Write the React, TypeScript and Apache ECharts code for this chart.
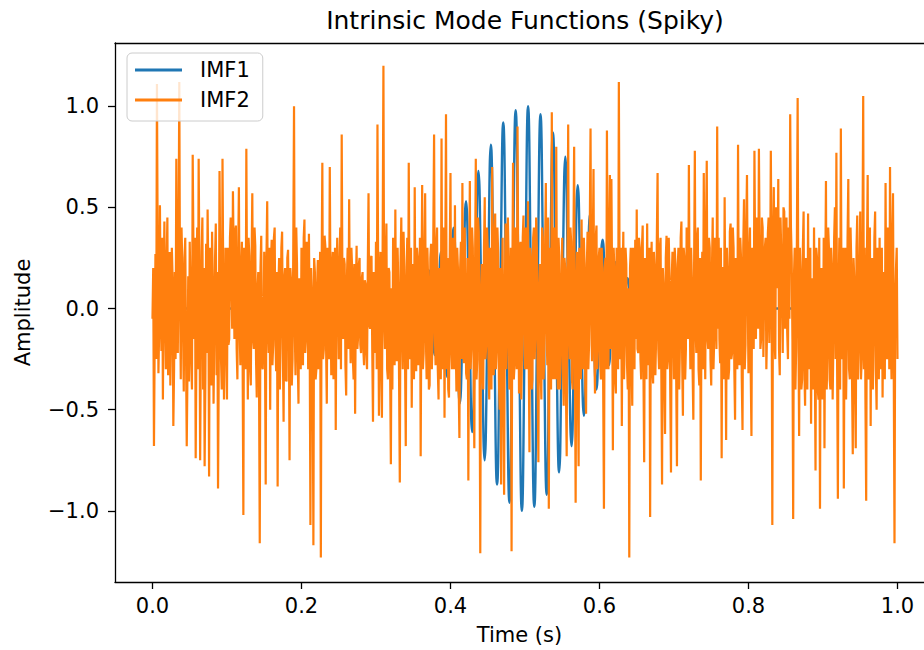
import React, { useEffect, useRef } from "react";
import * as echarts from "echarts";

const FONT = "DejaVu Sans";

const xTickValues = [0, 0.2, 0.4, 0.6, 0.8, 1.0];
const yTickValues = [-1.0, -0.5, 0.0, 0.5, 1.0];

// IMF1: zero crossings and extrema of the wave packet
const imf1Time = [
  0, 0.3,
  0.30417, 0.30833, 0.3125, 0.31667, 0.32083, 0.325, 0.32917, 0.33333,
  0.3375, 0.34167, 0.34583, 0.35, 0.35417, 0.35833, 0.3625, 0.36667,
  0.37083, 0.375, 0.37917, 0.38333, 0.3875, 0.39167, 0.39583, 0.4,
  0.40417, 0.40833, 0.4125, 0.41667, 0.42083, 0.425, 0.42917, 0.43333,
  0.4375, 0.44167, 0.44583, 0.45, 0.45417, 0.45833, 0.4625, 0.46667,
  0.47083, 0.475, 0.47917, 0.48333, 0.4875, 0.49167, 0.49583, 0.5,
  0.50417, 0.50833, 0.5125, 0.51667, 0.52083, 0.525, 0.52917, 0.53333,
  0.5375, 0.54167, 0.54583, 0.55, 0.55417, 0.55833, 0.5625, 0.56667,
  0.57083, 0.575, 0.57917, 0.58333, 0.5875, 0.59167, 0.59583, 0.6,
  0.60417, 0.60833, 0.6125, 0.61667, 0.62083, 0.625, 0.62917, 0.63333,
  0.6375, 0.64167, 0.64583, 0.65, 0.65417, 0.65833, 0.6625, 0.66667,
  0.67083, 0.675, 0.67917, 0.68333, 0.6875, 0.69167, 0.69583, 0.7,
  1.0,
];
const imf1Value = [
  0, 0,
  0.02, 0, -0.03, 0, 0.04, 0, -0.05, 0,
  0.07, 0, -0.09, 0, 0.12, 0, -0.15, 0,
  0.19, 0, -0.23, 0, 0.28, 0, -0.34, 0,
  0.4, 0, -0.47, 0, 0.53, 0, -0.61, 0,
  0.68, 0, -0.75, 0, 0.81, 0, -0.87, 0,
  0.92, 0, -0.96, 0, 0.98, 0, -1.0, 0,
  1.0, 0, -0.98, 0, 0.96, 0, -0.92, 0,
  0.87, 0, -0.81, 0, 0.75, 0, -0.68, 0,
  0.61, 0, -0.53, 0, 0.47, 0, -0.4, 0,
  0.34, 0, -0.28, 0, 0.23, 0, -0.19, 0,
  0.15, 0, -0.12, 0, 0.09, 0, -0.07, 0,
  0.05, 0, -0.04, 0, 0.03, 0, -0.02, 0,
  0,
];

// IMF2: spiky component, values on the even milliseconds (0, 0.002, ... 1.0 s)
const imf2Even = [
  -0.05, -0.68, 0.27, 1.11, -0.32, 0.51, -0.21, -0.45, 0.43, -0.3, 0.45, -0.12, -0.38, 0.3, -0.58, 0.18, 0.74, -0.22, 1.12, -0.35, 0.22, -0.41, 0.35, -0.68, 0.16,
  0.33, -0.26, 0.76, -0.15, -0.74, 0.4, 0.74, -0.75, 0.28, -0.4, -0.78, 0.32, 0.49, -0.83, -0.2, 0.38, -0.47, 0.25, -0.33, -0.89, 0.68, -0.25, 0.74, -0.45, 0.3,
  -0.45, -0.18, 0.35, 0.12, 0.58, -0.15, 0.41, -0.35, 0.6, -0.28, 0.33, -1.02, 0.15, 0.79, -0.45, 0.26, -0.38, 0.57, -0.2, 0.31, -0.44, 0.18, -1.16, 0.36, -0.3,
  0.28, -0.87, 0.53, -0.22, -0.5, 0.34, -0.18, 0.4, -0.31, -0.88, 0.25, -0.12, 0.38, -0.56, 0.2, -0.36, 0.29, -0.75, 0.14, -0.25, 1.0, -0.33, 0.22, -0.47, 0.12,
  0.3, -0.28, 0.44, -0.15, 0.26, 0.37, -1.07, 0.1, -1.17, 0.18, -0.3, 0.24, -0.12, -1.23, 0.72, -0.2, 0.31, -0.47, 0.15, 0.7, -0.33, 0.28, -0.18, -0.6, 0.35,
  -0.25, 0.4, 0.86, -0.15, 0.22, -0.43, 0.3, 0.54, -0.27, 0.2, -0.35, -0.52, 0.31, -0.14, 0.25, -0.22, 0.18, -0.28, 0.12, -0.3, 0.57, -0.1, 0.26, -0.56, 0.15,
  0.33, 0.91, -0.53, 0.28, -0.54, 1.2, -0.2, 0.42, -0.35, 0.18, -0.77, -0.4, 0.3, 0.49, -0.26, 0.12, -0.86, 0.45, -0.3, 0.21, -0.68, 0.35, 0.72, -0.25, -0.49,
  0.22, 0.6, -0.31, 0.25, -0.18, -0.73, 0.61, -0.22, 0.57, -0.35, 0.14, -0.38, 0.32, -0.15, 0.86, -0.28, 0.4, -0.45, 0.18, 0.84, -0.3, -0.54, 0.96, 0.25, -0.44,
  0.67, -0.3, 0.25, 0.51, -0.41, 0.2, -0.64, 0.33, 0.62, -0.27, 0.15, -0.35, -0.85, 0.63, -0.2, 0.3, -0.69, 0.74, -0.25, 0.38, -1.21, 0.22, -0.4, 0.55, -0.18,
  0.3, -0.45, 0.12, 0.7, -0.33, 0.47, -0.2, 0.28, -0.5, -0.87, 0.35, -0.92, 0.42, -0.15, 0.25, -0.38, -1.2, 0.72, -0.28, 0.2, 0.9, -0.42, 0.33, -0.22, 0.46,
  -0.3, 0.18, 0.53, -0.71, 0.25, -0.35, 0.4, -0.12, 0.3, -0.76, 0.22, -0.45, 0.35, -0.2, 0.62, -0.28, -0.99, 0.3, 0.97, -0.35, 0.15, 0.8, -0.4, 0.26, -0.22,
  0.35, -0.48, 0.2, -0.73, 0.91, -0.25, 0.33, -0.4, 0.8, -0.96, 0.28, -0.78, 0.15, 0.44, -0.3, 0.22, -0.52, 0.38, -0.18, 0.89, -0.26, 0.69, -0.42, 0.41, -0.2,
  0.3, -0.35, 0.18, -0.99, 0.25, 0.88, -0.3, 0.66, 0.64, -0.7, 0.2, -0.42, 0.28, 1.12, -0.25, -0.58, 0.38, -0.15, 0.22, -0.4, -1.23, 0.3, -0.48, 0.15, 0.34,
  0.49, -0.22, 0.3, -0.35, 0.41, -0.76, 0.18, 0.42, -0.28, -1.03, 0.33, -0.37, 0.2, -0.15, 0.67, -0.3, 0.35, -0.87, 0.12, -0.62, 0.36, -0.25, 0.16, -0.81, 0.28,
  -0.35, 0.22, -0.78, 0.3, -0.18, 0.43, -0.53, 0.25, -0.2, 0.35, 0.71, -0.3, 0.15, -0.55, 0.78, -0.22, 0.4, -0.38, -0.85, 0.28, 0.67, -0.35, 0.73, -0.2, 0.3,
  -0.38, 0.45, -0.15, 0.32, 0.9, 0.35, -0.27, -0.74, 0.2, 0.55, -0.65, 0.18, -0.3, 0.42, -0.22, 0.3, -0.55, 0.16, 0.81, -0.28, 0.25, -0.6, 0.54, -0.18, 0.66,
  -0.32, 0.4, -0.63, 0.22, 0.78, -0.15, 0.35, 0.79, -0.2, 0.45, -0.24, 0.3, -0.3, 0.37, -0.17, 0.78, -1.07, 0.6, -0.25, 0.42, 0.64, -0.33, 0.28, -0.22, 0.48,
  0.2, -0.12, 0.4, 0.96, 0.25, -1.04, 0.3, -0.2, 1.04, -0.63, 0.18, -0.35, 0.48, -0.48, 0.22, 0.47, -0.3, -0.57, 0.15, 0.4, -0.8, 0.25, -0.45, -0.99, 0.2,
  -0.3, -0.69, 0.63, -0.22, 0.3, -0.4, 0.2, -0.15, 0.5, 0.77, -0.94, 0.35, 0.89, -0.25, -0.89, 0.3, -0.18, 0.64, -0.35, 0.22, -0.72, 0.15, -0.69, 0.46, -0.2,
  0.48, -0.25, 1.05, 0.3, -0.95, 0.66, -0.2, -0.58, 0.25, -0.15, 0.48, -0.5, 0.2, 0.35, -0.3, -0.44, 0.18, 0.62, -0.25, 0.3, 0.7, -0.35, 0.57, -1.16, 0.2,
  -0.25,
];

// IMF2: values on the odd milliseconds (0.001, 0.003, ... 0.999 s)
const imf2Odd = [
  0.2, -0.15, -0.25, 0.3, -0.1, 0.05, 0.35, 0.12, -0.05, 0.22, -0.33, 0.28, -0.1, 0.15, -0.3, -0.25, 0.1, 0.3, 0.05, 0.4, -0.1, 0.25, -0.2, -0.3, -0.36,
  0.1, -0.4, 0.28, 0.35, -0.2, -0.3, 0.2, -0.15, 0.45, 0.2, -0.35, -0.22, 0.15, 0.3, -0.38, 0.1, -0.12, 0.42, 0.18, -0.28, 0.2, -0.4, 0.15, -0.2, 0.05,
  0.3, -0.15, 0.45, -0.1, 0.25, 0.38, -0.2, 0.25, -0.1, 0.2, -0.25, 0.3, -0.3, 0.05, 0.35, -0.3, 0.22, -0.15, 0.4, -0.25, 0.1, -0.33, 0.2, -0.28, -0.1,
  -0.2, 0.25, -0.1, 0.3, 0.22, -0.28, 0.35, -0.15, 0.18, 0.1, -0.4, 0.3, -0.2, 0.15, -0.35, 0.25, -0.05, 0.2, -0.38, 0.3, -0.1, 0.4, -0.25, 0.15, -0.3,
  -0.15, 0.35, -0.22, 0.33, -0.3, -0.1, 0.2, -0.3, 0.25, -0.35, 0.12, -0.3, 0.28, 0.15, -0.25, 0.36, -0.18, 0.3, -0.25, 0.05, 0.2, -0.35, 0.3, 0.1, 0.05,
  0.2, -0.3, 0.1, 0.25, -0.28, 0.15, -0.2, -0.05, 0.3, -0.25, 0.22, 0.1, -0.2, 0.22, -0.18, 0.15, -0.2, 0.14, -0.22, 0.2, -0.08, 0.25, -0.2, 0.18, -0.22,
  -0.3, 0.15, 0.1, -0.3, 0.35, -0.05, 0.25, -0.3, 0.2, -0.3, 0.1, 0.35, -0.28, -0.1, 0.3, -0.35, 0.22, -0.1, 0.38, -0.25, 0.15, -0.3, 0.05, 0.3, 0.1,
  -0.35, -0.1, 0.3, -0.28, 0.35, 0.05, -0.3, 0.25, -0.15, 0.3, -0.4, 0.25, -0.3, 0.38, -0.12, 0.3, -0.3, 0.2, -0.35, -0.15, 0.4, 0.2, -0.3, -0.4, 0.25,
  -0.2, 0.35, -0.3, -0.15, 0.3, -0.38, 0.2, -0.25, -0.1, 0.4, -0.32, 0.25, 0.1, -0.3, 0.4, -0.25, 0.2, -0.35, 0.45, -0.2, 0.05, -0.3, 0.3, -0.25, 0.4,
  -0.25, 0.3, -0.4, 0.05, 0.35, -0.3, 0.4, -0.35, 0.2, 0.05, -0.45, 0.1, -0.3, 0.45, -0.4, 0.3, 0.1, -0.35, 0.4, -0.3, 0.15, 0.3, -0.45, 0.35, -0.1,
  0.4, -0.3, -0.2, 0.3, -0.4, 0.35, -0.25, 0.45, -0.35, 0.1, -0.3, 0.4, -0.35, 0.3, -0.1, 0.45, 0.05, -0.4, 0.1, 0.4, -0.35, -0.05, 0.35, -0.4, 0.15,
  -0.3, 0.25, -0.4, 0.2, -0.1, 0.4, -0.35, 0.3, -0.2, 0.05, -0.4, 0.3, -0.35, -0.1, 0.35, -0.4, 0.2, -0.3, 0.4, -0.05, 0.3, -0.2, 0.35, -0.3, 0.25,
  -0.28, 0.3, -0.4, 0.2, -0.3, 0.1, 0.35, -0.2, 0.1, 0.3, -0.35, 0.3, -0.3, 0.15, 0.3, 0.1, -0.35, 0.3, -0.28, 0.1, 0.2, -0.25, 0.3, -0.3, -0.15,
  -0.2, 0.35, -0.25, 0.3, -0.3, 0.25, -0.35, -0.1, 0.3, 0.1, -0.3, 0.28, -0.33, 0.35, -0.2, 0.3, -0.3, 0.2, -0.35, 0.25, -0.3, 0.35, -0.4, 0.15, -0.1,
  0.3, -0.35, 0.2, -0.4, 0.35, -0.25, 0.3, -0.35, 0.4, -0.15, 0.05, 0.3, -0.3, 0.2, -0.1, 0.35, -0.3, 0.25, 0.1, -0.3, -0.05, 0.4, -0.15, 0.35, -0.25,
  0.2, -0.3, 0.35, -0.2, -0.1, -0.15, 0.3, 0.2, -0.35, -0.1, 0.3, -0.35, 0.38, -0.25, 0.4, -0.3, 0.25, -0.3, -0.05, 0.35, -0.35, 0.3, -0.3, 0.4, 0.05,
  0.25, -0.3, 0.3, -0.2, 0.2, 0.45, -0.1, 0.3, -0.15, 0.4, 0.05, 0.35, -0.1, 0.45, 0.1, 0.2, 0.3, -0.15, 0.5, 0.1, -0.2, 0.45, 0.05, 0.5, -0.1,
  0.45, -0.25, -0.05, 0.4, -0.15, 0.15, -0.4, 0.35, -0.1, 0.3, -0.4, 0.3, -0.3, 0.25, -0.4, -0.2, 0.3, 0.1, -0.4, -0.2, 0.3, -0.4, 0.35, 0.15, -0.45,
  0.35, 0.1, -0.4, 0.4, -0.35, 0.3, -0.45, 0.35, -0.25, -0.3, 0.1, -0.4, -0.1, 0.3, 0.05, -0.45, 0.35, -0.3, 0.4, -0.35, 0.25, -0.4, 0.3, -0.35, 0.2,
  -0.35, 0.3, -0.3, -0.45, 0.25, -0.35, 0.4, 0.1, -0.4, 0.35, -0.3, 0.3, -0.35, -0.2, 0.3, 0.1, -0.35, -0.1, 0.4, -0.3, -0.1, 0.35, -0.3, 0.05, 0.3,
];

const fmt = (v: number) => (v < 0 ? "\u2212" : "") + Math.abs(v).toFixed(1);

export default function App() {
  const ref = useRef<HTMLDivElement>(null);
  useEffect(() => {
    if (!ref.current) return;
    const chart = echarts.init(ref.current, null, { renderer: "svg" });
    const imf1Data = imf1Time.map((t, i) => [t, imf1Value[i]]);
    const n = imf2Even.length;
    const step = 1 / (n - 1);
    const imf2Data: number[][] = [];
    for (let i = 0; i < n; i++) {
      imf2Data.push([i * step, imf2Even[i]]);
      if (i < imf2Odd.length && i < n - 1) imf2Data.push([i * step + step / 2, imf2Odd[i]]);
    }
    const xMin = -0.0503;
    const xMax = 1.0356;
    const axisLineStyle = { color: "#000", width: 1.3 };
    chart.setOption({
      animation: false,
      backgroundColor: "#ffffff",
      textStyle: { fontFamily: FONT },
      title: {
        text: "Intrinsic Mode Functions (Spiky)",
        left: 525,
        top: 8,
        padding: 0,
        textAlign: "center",
        textStyle: { fontFamily: FONT, fontSize: 25, fontWeight: "normal", color: "#000" },
      },
      legend: {
        orient: "vertical",
        left: 127,
        top: 53,
        padding: [6, 13, 10, 8],
        itemGap: 8,
        itemWidth: 47,
        itemHeight: 3,
        icon: "rect",
        backgroundColor: "rgba(255,255,255,0.8)",
        borderColor: "#cccccc",
        borderWidth: 1,
        borderRadius: 5,
        textStyle: {
          fontFamily: FONT,
          fontSize: 21,
          color: "#000",
          lineHeight: 22,
          padding: [0, 0, 0, 13],
        },
        data: ["IMF1", "IMF2"],
      },
      grid: { left: 115, top: 43, right: 0, bottom: 63, containLabel: false },
      xAxis: [
        {
          type: "value",
          min: xMin,
          max: xMax,
          axisLine: { show: true, onZero: false, lineStyle: axisLineStyle },
          axisTick: {
            show: true,
            length: 7,
            customValues: xTickValues,
            lineStyle: { color: "#000", width: 1.3 },
          },
          axisLabel: {
            customValues: xTickValues,
            formatter: (v: number) => fmt(v),
            fontFamily: FONT,
            fontSize: 21,
            color: "#000",
            margin: 13,
          },
          splitLine: { show: false },
          name: "Time (s)",
          nameLocation: "middle",
          nameGap: 42,
          nameTextStyle: { fontFamily: FONT, fontSize: 21, color: "#000" },
        },
        {
          type: "value",
          position: "top",
          min: xMin,
          max: xMax,
          axisLine: { show: true, onZero: false, lineStyle: axisLineStyle },
          axisTick: { show: false },
          axisLabel: { show: false },
          splitLine: { show: false },
        },
      ],
      yAxis: {
        type: "value",
        min: -1.3516,
        max: 1.3124,
        axisLine: { show: true, onZero: false, lineStyle: axisLineStyle },
        axisTick: {
          show: true,
          length: 7,
          customValues: yTickValues,
          lineStyle: { color: "#000", width: 1.3 },
        },
        axisLabel: {
          customValues: yTickValues,
          formatter: (v: number) => fmt(v),
          fontFamily: FONT,
          fontSize: 21,
          color: "#000",
          margin: 16,
        },
        splitLine: { show: false },
        name: "Amplitude",
        nameLocation: "middle",
        nameGap: 82,
        nameTextStyle: { fontFamily: FONT, fontSize: 21, color: "#000" },
      },
      series: [
        {
          name: "IMF1",
          type: "line",
          xAxisIndex: 0,
          data: imf1Data,
          showSymbol: false,
          symbol: "none",
          smooth: 0.5,
          lineStyle: { color: "#1f77b4", width: 2.4 },
          itemStyle: { color: "#1f77b4" },
          z: 2,
        },
        {
          name: "IMF2",
          type: "line",
          xAxisIndex: 0,
          data: imf2Data,
          showSymbol: false,
          symbol: "none",
          lineStyle: { color: "#ff7f0e", width: 2.2 },
          itemStyle: { color: "#ff7f0e" },
          z: 3,
        },
      ],
    });
    return () => chart.dispose();
  }, []);
  return (
    <div
      ref={ref}
      style={{ position: "absolute", left: 0, top: 0, width: 924, height: 650 }}
    />
  );
}
